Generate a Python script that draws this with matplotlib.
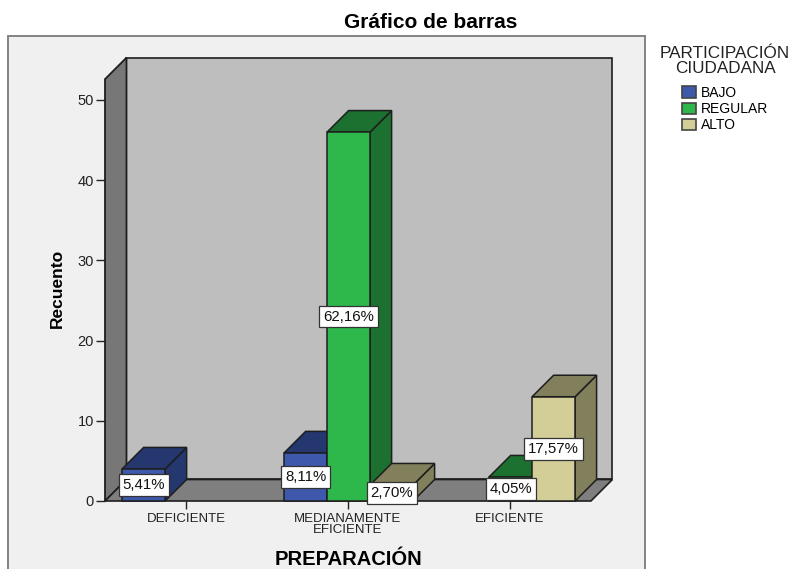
import matplotlib
matplotlib.use('Agg')
import matplotlib.pyplot as plt
from matplotlib.patches import Patch, Rectangle

plt.rcParams['font.family'] = ['Liberation Sans', 'DejaVu Sans']

categories = ['DEFICIENTE', 'MEDIANAMENTE\nEFICIENTE', 'EFICIENTE']
series = ['BAJO', 'REGULAR', 'ALTO']
bajo = [4, 6, 0]
regular = [0, 46, 3]
alto = [0, 2, 13]
bajo_pct = ['5,41%', '8,11%', '']
regular_pct = ['', '62,16%', '4,05%']
alto_pct = ['', '2,70%', '17,57%']
yticks = [0, 10, 20, 30, 40, 50]

front_colors = ['#3E58AC', '#2EB84C', '#D3CE97']
dark_colors = ['#24376E', '#1C7030', '#827F5D']
edge = '#1E1E1E'

# size of the fake 3d depth and bars, in data units
bar_w = 43 / 162
dx = 21.5 / 162
dy = 21.5 / 8.02
wall_top = 52.6

fig = plt.figure(figsize=(7.92, 5.69), dpi=100)
fig.add_artist(Rectangle((8 / 792, -0.02), 637 / 792, 1 - 36 / 569 + 0.02, transform=fig.transFigure,
                         facecolor='#F0F0F0', edgecolor='#7A7A7A', linewidth=1.3, zorder=-1))

ax = fig.add_axes([105 / 792, 1 - 501 / 569, 507 / 792, 444 / 569])
ax.set_xlim(-0.5, 2.63)
ax.set_ylim(0, 55.36)
ax.patch.set_visible(False)
for s in ax.spines.values():
    s.set_visible(False)

# walls and floor
ax.fill([-0.5 + dx, 2.5 + dx, 2.5 + dx, -0.5 + dx], [dy, dy, wall_top + dy, wall_top + dy],
        facecolor='#BEBEBE', edgecolor=edge, linewidth=1.2, clip_on=False)
ax.fill([-0.5, -0.5 + dx, -0.5 + dx, -0.5], [0, dy, wall_top + dy, wall_top],
        facecolor='#777777', edgecolor=edge, linewidth=1.3, clip_on=False)
ax.fill([-0.5, 2.5, 2.5 + dx, -0.5 + dx], [0, 0, dy, dy],
        facecolor='#7F7F7F', edgecolor=edge, linewidth=1.2, clip_on=False)

# bars, left to right so the nearer faces cover the others
all_values = [bajo, regular, alto]
all_pct = [bajo_pct, regular_pct, alto_pct]
for c in range(len(categories)):
    for i in range(len(series)):
        v = all_values[i][c]
        if v == 0:
            continue
        x0 = c + (i - 1.5) * bar_w + 0.004
        x1 = x0 + bar_w
        ax.fill([x1, x1 + dx, x1 + dx, x1], [0, dy, v + dy, v],
                facecolor=dark_colors[i], edgecolor=edge, linewidth=1.1, clip_on=False)
        ax.fill([x0, x1, x1 + dx, x0 + dx], [v, v, v + dy, v + dy],
                facecolor=dark_colors[i], edgecolor=edge, linewidth=1.1, clip_on=False)
        ax.bar(x0 + bar_w / 2, v, width=bar_w, color=front_colors[i], edgecolor=edge, linewidth=1.1, clip_on=False)

# percent labels go on top of every bar
for c in range(len(categories)):
    for i in range(len(series)):
        v = all_values[i][c]
        if v == 0:
            continue
        ax.text(c + (i - 1) * bar_w + 0.004, v / 2, all_pct[i][c], ha='center', va='center', fontsize=10.8,
                color='#111111', zorder=5,
                bbox=dict(boxstyle='square,pad=0.25', facecolor='white', edgecolor='#333333', linewidth=0.9))

ax.set_xticks(range(len(categories)))
ax.set_xticklabels(categories, fontsize=9.5, linespacing=0.85, color='#222222')
ax.set_yticks(yticks)
ax.tick_params(axis='y', labelsize=10.5, length=6.5, width=1.0, pad=1.5, colors='#222222')
ax.tick_params(axis='x', length=6, width=1.0, pad=3, colors='#222222')

ax.set_xlabel('PREPARACIÓN', fontsize=14.5, fontweight='bold')
ax.xaxis.set_label_coords(0.481, -0.11)
ax.set_ylabel('Recuento', fontsize=12.5, fontweight='bold')
ax.yaxis.set_label_coords(-0.08, 0.478)
fig.suptitle('Gráfico de barras', x=431 / 792, y=1 - 22 / 569, va='center', fontsize=15, fontweight='bold')

handles = [Patch(facecolor=front_colors[i], edgecolor='#444444', linewidth=1.2) for i in range(len(series))]
leg = fig.legend(handles, series, title='PARTICIPACIÓN\nCIUDADANA', title_fontsize=12.3, fontsize=10,
                 loc='upper left', bbox_to_anchor=(649 / 792, 1 - 35 / 569), frameon=False,
                 handlelength=1.0, handleheight=0.85, handletextpad=0.35, labelspacing=0.15, borderpad=0.3)
leg.get_title().set_multialignment('center')
leg.get_title().set_linespacing(1.0)
leg.get_title().set_color('#222222')
leg._legend_box.sep = 7

fig.savefig('out.png', dpi=100)
